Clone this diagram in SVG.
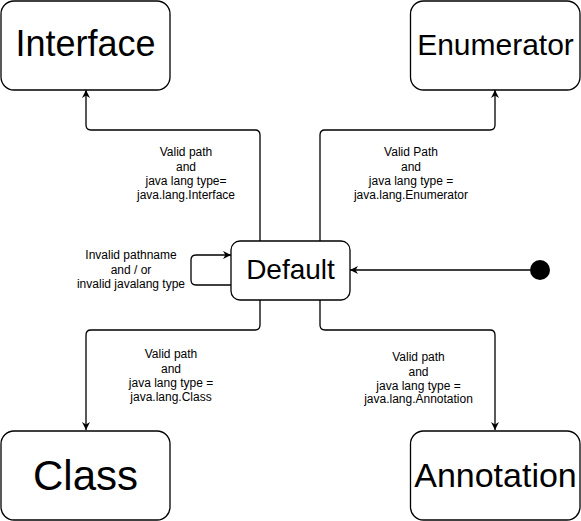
<svg xmlns="http://www.w3.org/2000/svg" width="581" height="521" viewBox="0 0 581 521">
<style>
.box{fill:#fff;stroke:#000;stroke-width:1.3}
.big{font-family:"Liberation Sans",Arial,sans-serif;text-anchor:middle;fill:#000}
.lbl{font-family:"Liberation Sans",Arial,sans-serif;font-size:12px;text-anchor:middle;fill:#000}
.edge{fill:none;stroke:#000;stroke-width:1.3}
</style>
<defs>
<marker id="arr" viewBox="0 0 10 10" refX="10" refY="5" markerWidth="8" markerHeight="8" markerUnits="userSpaceOnUse" orient="auto">
<path d="M0,0 L10,5 L0,10 L3,5 Z" fill="#000"/>
</marker>
</defs>
<rect width="581" height="521" fill="#fff"/>
<g id="connectors">
<path class="edge" marker-end="url(#arr)" d="M260,241 V135 Q260,130 255,130 H91 Q86,130 86,125 V90"/>
<path class="edge" marker-end="url(#arr)" d="M320,241 V135 Q320,130 325,130 H490 Q495,130 495,125 V90"/>
<path class="edge" marker-end="url(#arr)" d="M260,300 V325 Q260,330 255,330 H91 Q86,330 86,335 V430"/>
<path class="edge" marker-end="url(#arr)" d="M320,300 V325 Q320,330 325,330 H490 Q495,330 495,335 V430"/>
<path class="edge" marker-end="url(#arr)" d="M231,285 H196 Q191,285 191,280 V260 Q191,255 196,255 H231"/>
<path class="edge" marker-end="url(#arr)" d="M530,270 H350"/>
<text class="lbl" x="186" y="156">Valid path</text>
<text class="lbl" x="186" y="170.5">and</text>
<text class="lbl" x="186" y="185">java lang type=</text>
<text class="lbl" x="186" y="199">java.lang.Interface</text>
<text class="lbl" x="411" y="156">Valid Path</text>
<text class="lbl" x="411" y="170.5">and</text>
<text class="lbl" x="411" y="185">java lang type =</text>
<text class="lbl" x="411" y="199">java.lang.Enumerator</text>
<text class="lbl" x="131" y="259">Invalid pathname</text>
<text class="lbl" x="131" y="273.5">and / or</text>
<text class="lbl" x="131" y="288">invalid javalang type</text>
<text class="lbl" x="171" y="358">Valid path</text>
<text class="lbl" x="171" y="373">and</text>
<text class="lbl" x="171" y="387">java lang type =</text>
<text class="lbl" x="171" y="401">java.lang.Class</text>
<text class="lbl" x="418.5" y="360.5">Valid path</text>
<text class="lbl" x="418.5" y="375.5">and</text>
<text class="lbl" x="418.5" y="390">java lang type =</text>
<text class="lbl" x="418.5" y="403">java.lang.Annotation</text>
</g>
<g id="interface">
<rect class="box" x="1" y="1" width="169" height="89" rx="13"/>
<text class="big" x="85.5" y="56" font-size="36">Interface</text>
</g>
<g id="enumerator">
<rect class="box" x="410.5" y="1" width="169.5" height="89" rx="13"/>
<text class="big" x="495.5" y="55" font-size="30">Enumerator</text>
</g>
<g id="default">
<rect class="box" x="231" y="241" width="119" height="59" rx="9"/>
<text class="big" x="290.5" y="279" font-size="28">Default</text>
</g>
<g id="class">
<rect class="box" x="1" y="431" width="169" height="89" rx="13"/>
<text class="big" x="85.5" y="490" font-size="42">Class</text>
</g>
<g id="annotation">
<rect class="box" x="410.5" y="431" width="169.5" height="89" rx="13"/>
<text class="big" x="495.5" y="487" font-size="34">Annotation</text>
</g>
<g id="start">
<circle cx="540" cy="270" r="10" fill="#000"/>
</g>
</svg>
